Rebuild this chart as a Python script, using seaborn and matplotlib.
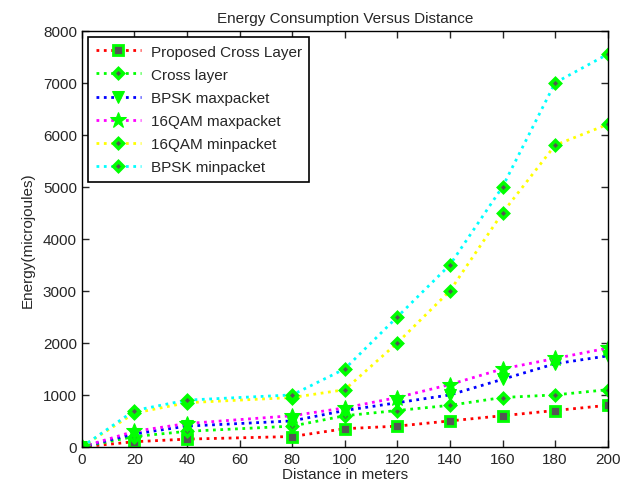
import matplotlib
matplotlib.use("Agg")
import matplotlib.pyplot as plt
import seaborn as sns

distance = [0, 20, 40, 80, 100, 120, 140, 160, 180, 200]
proposed_cross = [0, 100, 150, 200, 350, 400, 500, 600, 700, 800]
cross_layer = [0, 200, 300, 400, 600, 700, 800, 950, 1000, 1100]
bpsk_max = [0, 250, 400, 500, 700, 850, 1000, 1300, 1600, 1750]
qam16_max = [0, 300, 450, 600, 750, 950, 1200, 1500, 1700, 1900]
qam16_min = [0, 650, 850, 950, 1100, 2000, 3000, 4500, 5800, 6200]
bpsk_min = [0, 700, 900, 1000, 1500, 2500, 3500, 5000, 7000, 7550]

series = [
    ("Proposed Cross Layer", proposed_cross, "red", "s"),
    ("Cross layer", cross_layer, "lime", "D"),
    ("BPSK maxpacket", bpsk_max, "blue", "v"),
    ("16QAM maxpacket", qam16_max, "magenta", "*"),
    ("16QAM minpacket", qam16_min, "yellow", "D"),
    ("BPSK minpacket", bpsk_min, "cyan", "D"),
]

sns.set_style("ticks")
plt.rcParams["font.family"] = ["Liberation Sans", "DejaVu Sans"]

fig = plt.figure(figsize=(6.39, 4.89), dpi=100)
ax = fig.add_axes([0.128, 0.084, 0.823, 0.851])

for label, vals, color, mk in series:
    if mk == "s":
        kw = dict(markersize=6.5, markerfacecolor="#555555", markeredgecolor="lime", markeredgewidth=2)
    elif mk == "D":
        kw = dict(markersize=5, markerfacecolor="#555555", markeredgecolor="lime", markeredgewidth=2.5)
    elif mk == "v":
        kw = dict(markersize=8, markerfacecolor="lime", markeredgecolor="lime")
    else:
        kw = dict(markersize=12, markerfacecolor="lime", markeredgecolor="lime")
    sns.lineplot(x=distance, y=vals, ax=ax, color=color, linestyle=":", linewidth=2,
                 marker=mk, label=label, **kw)

ax.set_xlim(0, 200)
ax.set_ylim(0, 8000)
ax.set_xticks(range(0, 201, 20))
ax.set_yticks(range(0, 8001, 1000))
ax.tick_params(direction="in", top=True, right=True, labelsize=11, length=5, width=1)
for sp in ax.spines.values():
    sp.set_visible(True)
    sp.set_color("black")
    sp.set_linewidth(1)

ax.set_title("Energy Consumption Versus Distance", fontsize=11)
ax.set_xlabel("Distance in meters", fontsize=11, labelpad=1)
ax.set_ylabel("Energy(microjoules)", fontsize=11, labelpad=6)

leg = ax.legend(loc="upper left", fontsize=11, fancybox=False, framealpha=1,
                edgecolor="black", handlelength=3.0, borderaxespad=0.4, labelspacing=0.6,
                borderpad=0.5, handletextpad=0.6)
leg.get_frame().set_linewidth(1.2)

fig.savefig("out.png", dpi=100)
